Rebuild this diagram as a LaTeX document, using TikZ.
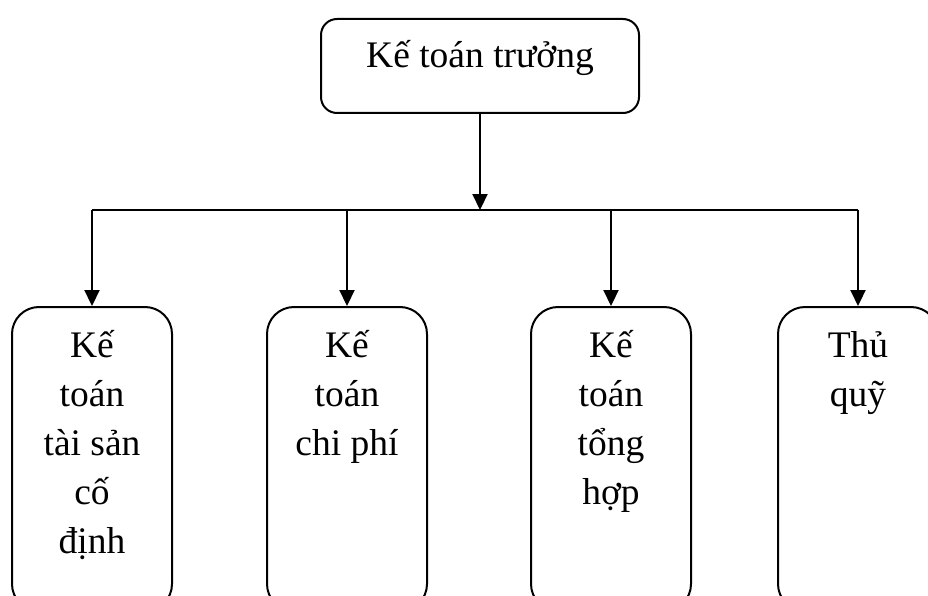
\documentclass[tikz,border=0pt]{standalone}
\usepackage{fontspec}
\setmainfont{Liberation Serif}
\usetikzlibrary{arrows.meta}
\tikzset{
  box/.style={draw, line width=2pt, rounded corners=16pt, inner sep=0pt},
  unitbox/.style={draw, line width=2pt, rounded corners=27pt, inner sep=0pt,
    minimum width=160pt, minimum height=304pt},
  label/.style={inner sep=0pt, anchor=base},
  link/.style={line width=2.2pt},
  arrowlink/.style={line width=2.2pt, -{Triangle[width=15pt,length=16pt]}},
}
\newcommand{\boxlines}[1]{\parbox[t]{150pt}{\centering\fontsize{37.5}{49}\selectfont #1}}
\begin{document}
\begin{tikzpicture}[x=1pt, y=-1pt]
  \useasboundingbox (0,0) rectangle (928,596);
  \clip (0,0) rectangle (928,596);

  % head of the department
  \node[box, minimum width=318pt, minimum height=94pt] (head) at (480,66) {};
  \node[label] (headtxt) at (480,68) {\fontsize{37.5}{45}\selectfont Kế toán trưởng};

  % subordinate units
  \node[unitbox] (u1) at (92,459) {};
  \node[unitbox] (u2) at (347,459) {};
  \node[unitbox] (u3) at (611,459) {};
  \node[unitbox] (u4) at (858,459) {};

  \node[label] (t1) at (92,357)  {\boxlines{Kế\\toán\\tài sản\\cố\\định}};
  \node[label] (t2) at (347,357) {\boxlines{Kế\\toán\\chi phí}};
  \node[label] (t3) at (611,357) {\boxlines{Kế\\toán\\tổng\\hợp}};
  \node[label] (t4) at (858,357) {\boxlines{Thủ\\quỹ}};

  % distribution bus
  \coordinate (bus) at (480,210);
  \coordinate (busL) at (u1.north |- bus);
  \coordinate (busR) at (u4.north |- bus);

  \draw[arrowlink] (head.south) -- (bus);
  \draw[link] (busL) -- (busR);
  \draw[arrowlink] (busL) -- (u1.north);
  \draw[arrowlink] (u2.north |- bus) -- (u2.north);
  \draw[arrowlink] (u3.north |- bus) -- (u3.north);
  \draw[arrowlink] (busR) -- (u4.north);
\end{tikzpicture}
\end{document}
